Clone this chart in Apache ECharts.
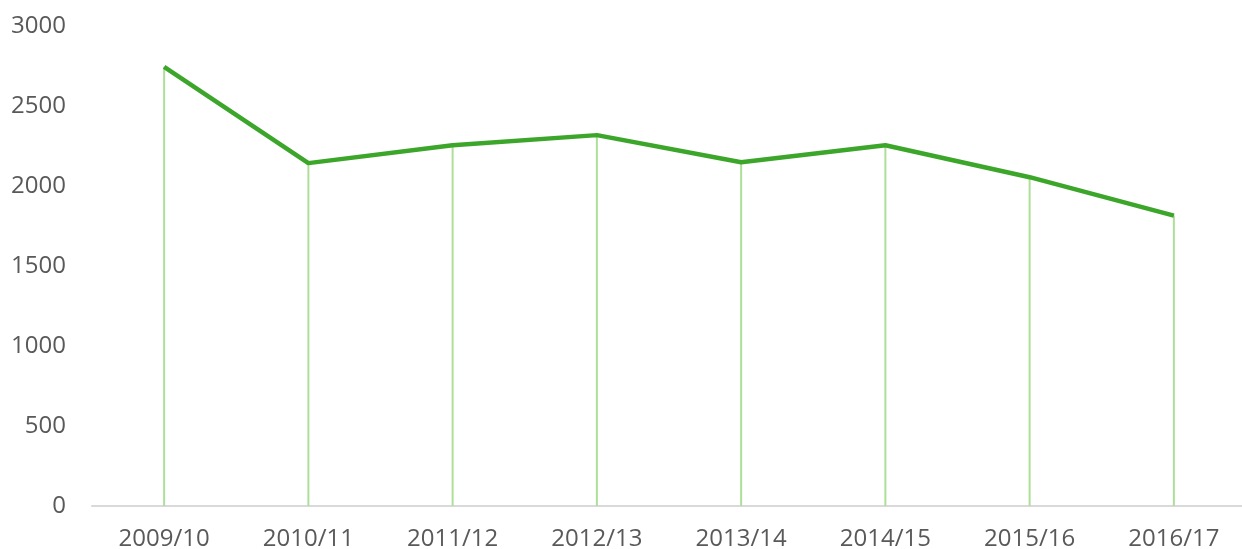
<!DOCTYPE html>
<html>
<head>
<meta charset="utf-8">
<script src="https://cdn.jsdelivr.net/npm/echarts@6/dist/echarts.min.js"></script>
<style>
  html, body { margin: 0; padding: 0; background: #fff; }
  #chart { width: 1242px; height: 549px; }
</style>
</head>
<body>
<div id="chart"></div>
<script>
const seasons = ['2009/10', '2010/11', '2011/12', '2012/13', '2013/14', '2014/15', '2015/16', '2016/17'];
const values = [2745, 2143, 2255, 2318, 2148, 2255, 2055, 1815];

const chart = echarts.init(document.getElementById('chart'));

chart.setOption({
  animation: false,
  textStyle: { fontFamily: 'Open Sans' },
  grid: {
    left: 92,
    top: 26,
    right: -4,
    bottom: 43,
    containLabel: false,
    outerBoundsMode: 'none'
  },
  xAxis: {
    type: 'category',
    data: seasons,
    boundaryGap: true,
    axisTick: { show: false },
    axisLine: { lineStyle: { color: '#d9d9d9', width: 2 } },
    axisLabel: { color: '#595959', fontSize: 24, margin: 21 }
  },
  yAxis: {
    type: 'value',
    min: 0,
    max: 3000,
    interval: 500,
    splitLine: { show: false },
    axisLine: { show: false },
    axisTick: { show: false },
    axisLabel: { color: '#595959', fontSize: 24, margin: 26, formatter: v => String(v) }
  },
  series: [
    {
      // drop lines from each point to the axis
      type: 'bar',
      data: values,
      barWidth: 2,
      itemStyle: { color: '#addf98' },
      silent: true
    },
    {
      type: 'line',
      data: values,
      showSymbol: false,
      lineStyle: { color: '#3ca62b', width: 4.5 },
      z: 3
    }
  ]
});
</script>
</body>
</html>
